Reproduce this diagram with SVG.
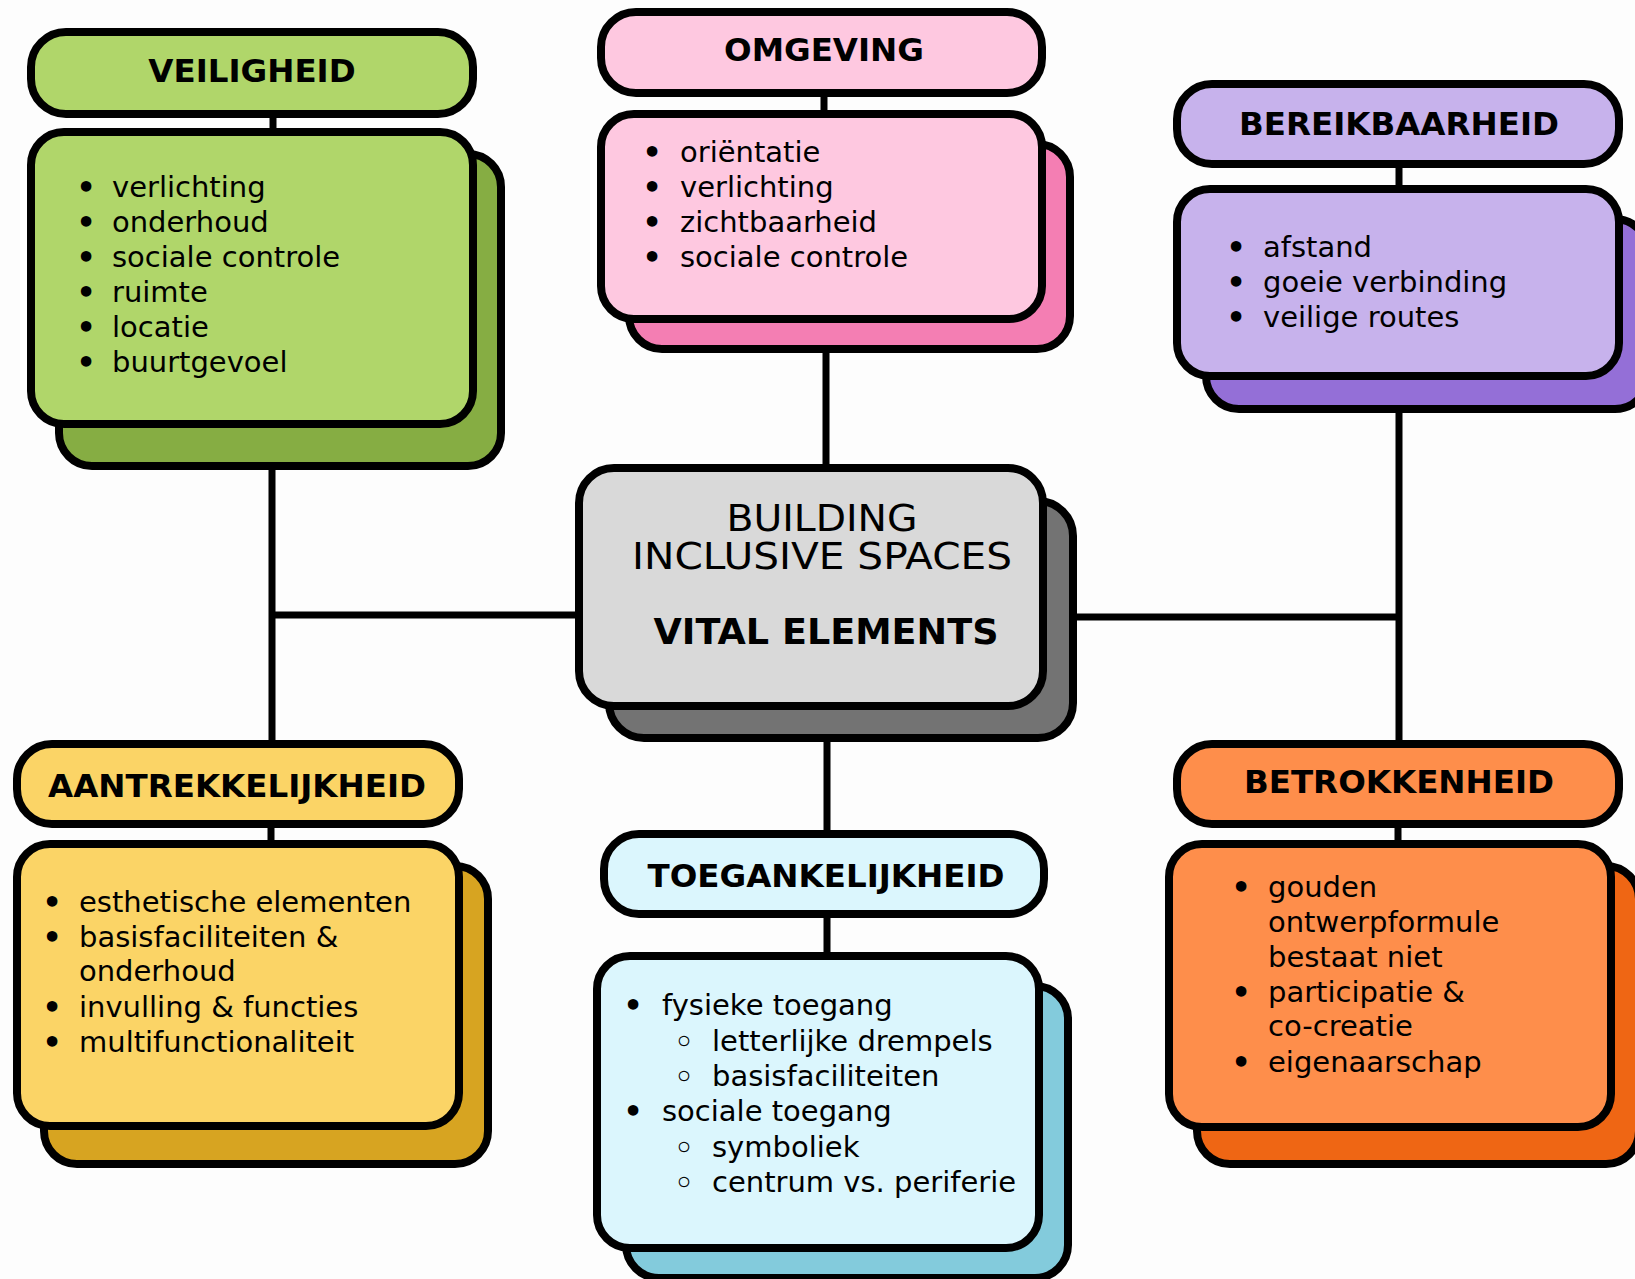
<svg xmlns="http://www.w3.org/2000/svg" width="1635" height="1279" viewBox="0 0 1635 1279">
<style>
.box{stroke:#000;stroke-width:8}
.conn{stroke:#000;stroke-width:7;fill:none}
.title{font-family:"DejaVu Sans",sans-serif;font-weight:bold;font-size:32.5px;text-anchor:middle;fill:#000}
.item{font-family:"DejaVu Sans",sans-serif;font-size:29px;fill:#000}
.bul{font-family:"DejaVu Sans",sans-serif;font-size:30px;font-weight:bold;fill:#000;text-anchor:middle}
.ctr{font-family:"DejaVu Sans",sans-serif;text-anchor:middle;fill:#000}
</style>
<rect width="1635" height="1279" fill="#fdfdfd"/>
<g id="connectors">
<path class="conn" d="M273 118V132 M272 466V744 M272 615H579 M824 93V114 M826 349V468 M1399 164V189 M1399 409V744 M1077 617H1399 M827 742V834 M271 824V844 M827 914V956 M1398 824V844"/>
</g>
<g id="veiligheid">
<rect class="box" x="31" y="32" width="442" height="82" rx="35" fill="#b0d66a"/>
<text class="title" x="252" y="82">VEILIGHEID</text>
<rect class="box" x="59" y="154" width="442" height="312" rx="33" fill="#86ad43"/>
<rect class="box" x="31" y="132" width="442" height="292" rx="33" fill="#b0d66a"/>
<text class="bul" x="86" y="198">•</text><text class="item" x="112" y="197">verlichting</text>
<text class="bul" x="86" y="233">•</text><text class="item" x="112" y="232">onderhoud</text>
<text class="bul" x="86" y="268">•</text><text class="item" x="112" y="267">sociale controle</text>
<text class="bul" x="86" y="303">•</text><text class="item" x="112" y="302">ruimte</text>
<text class="bul" x="86" y="338">•</text><text class="item" x="112" y="337">locatie</text>
<text class="bul" x="86" y="373">•</text><text class="item" x="112" y="372">buurtgevoel</text>
</g>
<g id="omgeving">
<rect class="box" x="601" y="12" width="441" height="81" rx="35" fill="#fec8e0"/>
<text class="title" x="824" y="61">OMGEVING</text>
<rect class="box" x="629" y="144" width="441" height="205" rx="33" fill="#f47eb3"/>
<rect class="box" x="601" y="114" width="441" height="205" rx="33" fill="#fec8e0"/>
<text class="bul" x="652" y="163">•</text><text class="item" x="680" y="162">oriëntatie</text>
<text class="bul" x="652" y="198">•</text><text class="item" x="680" y="197">verlichting</text>
<text class="bul" x="652" y="233">•</text><text class="item" x="680" y="232">zichtbaarheid</text>
<text class="bul" x="652" y="268">•</text><text class="item" x="680" y="267">sociale controle</text>
</g>
<g id="bereikbaarheid">
<rect class="box" x="1177" y="84" width="442" height="80" rx="35" fill="#c7b2ec"/>
<text class="title" x="1399" y="135">BEREIKBAARHEID</text>
<rect class="box" x="1206" y="219" width="442" height="190" rx="33" fill="#946fd7"/>
<rect class="box" x="1177" y="189" width="442" height="187" rx="33" fill="#c7b2ec"/>
<text class="bul" x="1236" y="258">•</text><text class="item" x="1263" y="257">afstand</text>
<text class="bul" x="1236" y="293">•</text><text class="item" x="1263" y="292">goeie verbinding</text>
<text class="bul" x="1236" y="328">•</text><text class="item" x="1263" y="327">veilige routes</text>
</g>
<g id="center">
<rect class="box" x="609" y="501" width="464" height="237" rx="35" fill="#737373"/>
<rect class="box" x="579" y="468" width="464" height="238" rx="35" fill="#d9d9d9"/>
<text class="ctr" font-size="37"><tspan x="822" y="531" textLength="191" lengthAdjust="spacingAndGlyphs">BUILDING</tspan><tspan x="822" y="569" textLength="380" lengthAdjust="spacingAndGlyphs">INCLUSIVE SPACES</tspan></text>
<text class="ctr" x="826" y="644" font-size="35" font-weight="bold" textLength="345" lengthAdjust="spacingAndGlyphs">VITAL ELEMENTS</text>
</g>
<g id="aantrekkelijkheid">
<rect class="box" x="17" y="744" width="442" height="80" rx="35" fill="#fbd466"/>
<text class="title" x="237" y="797">AANTREKKELIJKHEID</text>
<rect class="box" x="44" y="866" width="444" height="298" rx="33" fill="#d7a421"/>
<rect class="box" x="17" y="844" width="442" height="282" rx="33" fill="#fbd466"/>
<text class="bul" x="52" y="913">•</text><text class="item" x="79" y="912">esthetische elementen</text>
<text class="bul" x="52" y="948">•</text><text class="item" x="79" y="947">basisfaciliteiten &amp;</text>
<text class="item" x="79" y="981">onderhoud</text>
<text class="bul" x="52" y="1018">•</text><text class="item" x="79" y="1017">invulling &amp; functies</text>
<text class="bul" x="52" y="1053">•</text><text class="item" x="79" y="1052">multifunctionaliteit</text>
</g>
<g id="toegankelijkheid">
<rect class="box" x="604" y="834" width="440" height="80" rx="35" fill="#dbf6fd"/>
<text class="title" x="826" y="887">TOEGANKELIJKHEID</text>
<rect class="box" x="626" y="986" width="442" height="292" rx="33" fill="#83cbdc"/>
<rect class="box" x="597" y="956" width="442" height="292" rx="33" fill="#dbf6fd"/>
<text class="bul" x="633" y="1016">•</text><text class="item" x="662" y="1015">fysieke toegang</text>
<text class="bul" x="684" y="1052">◦</text><text class="item" x="712" y="1051">letterlijke drempels</text>
<text class="bul" x="684" y="1087">◦</text><text class="item" x="712" y="1086">basisfaciliteiten</text>
<text class="bul" x="633" y="1122">•</text><text class="item" x="662" y="1121">sociale toegang</text>
<text class="bul" x="684" y="1158">◦</text><text class="item" x="712" y="1157">symboliek</text>
<text class="bul" x="684" y="1193">◦</text><text class="item" x="712" y="1192">centrum vs. periferie</text>
</g>
<g id="betrokkenheid">
<rect class="box" x="1177" y="744" width="442" height="80" rx="35" fill="#fe8e4b"/>
<text class="title" x="1399" y="793">BETROKKENHEID</text>
<rect class="box" x="1197" y="866" width="442" height="298" rx="33" fill="#ef6614"/>
<rect class="box" x="1169" y="844" width="442" height="283" rx="33" fill="#fe8e4b"/>
<text class="bul" x="1241" y="898">•</text><text class="item" x="1268" y="897">gouden</text>
<text class="item" x="1268" y="932">ontwerpformule</text>
<text class="item" x="1268" y="967">bestaat niet</text>
<text class="bul" x="1241" y="1003">•</text><text class="item" x="1268" y="1002">participatie &amp;</text>
<text class="item" x="1268" y="1036">co-creatie</text>
<text class="bul" x="1241" y="1073">•</text><text class="item" x="1268" y="1072">eigenaarschap</text>
</g>
</svg>
